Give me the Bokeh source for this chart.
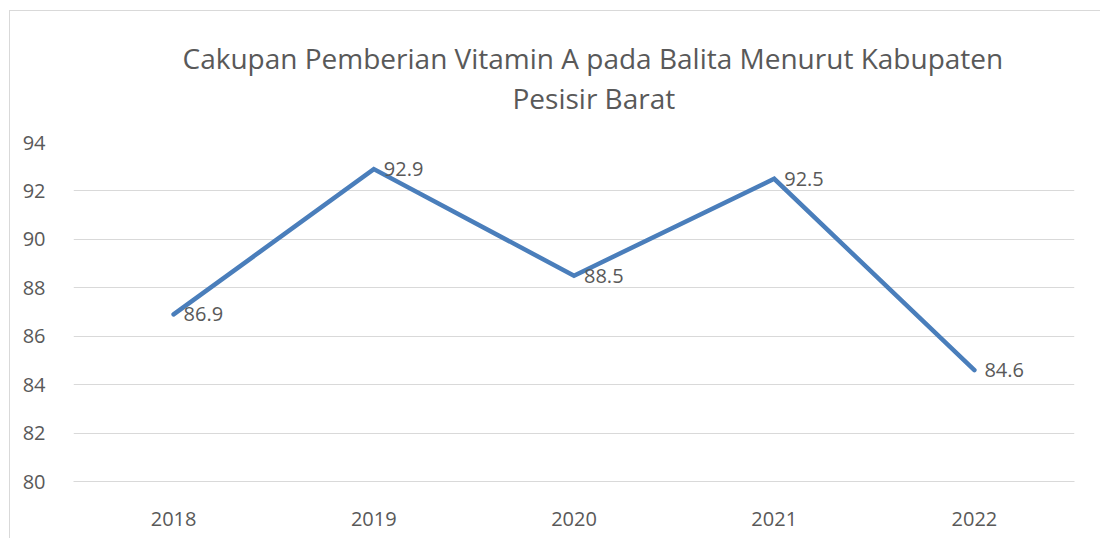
from bokeh.plotting import figure
from bokeh.models import Range1d, FactorRange, ColumnDataSource, FixedTicker, Title
from bokeh.embed import file_html
from bokeh.resources import INLINE

years = ["2018", "2019", "2020", "2021", "2022"]
values = [86.9, 92.9, 88.5, 92.5, 84.6]
value_labels = ["86.9", "92.9", "88.5", "92.5", "84.6"]
y_ticks = [80, 82, 84, 86, 88, 90, 92, 94]
title_lines = ["Cakupan Pemberian Vitamin A pada Balita Menurut Kabupaten", "Pesisir Barat"]

FONT = "Open Sans"
TXT = "#595959"
GRID = "#d9d9d9"
LINE = "#4a7ebb"

src = ColumnDataSource(dict(x=years, y=values, lab=value_labels))

p = figure(width=1091, height=528, output_backend="svg", toolbar_location=None,
           x_range=FactorRange(*years, range_padding=0), y_range=Range1d(80, 94),
           min_border_left=63, min_border_right=27, min_border_top=131, min_border_bottom=58)
p.styles = {"border-top": f"1px solid {GRID}", "border-left": f"1px solid {GRID}",
            "margin-left": "9px", "margin-top": "10px"}
p.outline_line_color = None
p.background_fill_color = "white"
p.border_fill_color = "white"

p.line("x", "y", source=src, line_color=LINE, line_width=4.5, line_join="miter", line_cap="round")
p.text("x", "y", text="lab", source=src, x_offset=10, text_baseline="middle", text_align="left",
       text_font={"value": FONT}, text_font_size="20px", text_color=TXT)

p.yaxis.ticker = FixedTicker(ticks=y_ticks)
p.ygrid.ticker = FixedTicker(ticks=y_ticks)
p.ygrid.grid_line_color = GRID
p.ygrid.grid_line_width = 1
p.xgrid.grid_line_color = None
for ax in (p.xaxis, p.yaxis):
    ax.axis_line_color = None
    ax.major_tick_line_color = None
    ax.minor_tick_line_color = None
    ax.major_label_text_font = FONT
    ax.major_label_text_font_size = "20px"
    ax.major_label_text_color = TXT
p.xaxis.axis_line_color = GRID
p.yaxis.major_label_standoff = 22
p.xaxis.major_label_standoff = 24

# blank spacer between the plot frame and the two-line title
p.add_layout(Title(text=" ", text_font=FONT, text_font_size="18px", standoff=0), "above")
p.add_layout(Title(text=title_lines[1], align="left", offset=439, text_font=FONT,
                   text_font_size="28px", text_font_style="normal", text_color=TXT, standoff=0), "above")
p.add_layout(Title(text=title_lines[0], align="left", offset=109, text_font=FONT,
                   text_font_size="28px", text_font_style="normal", text_color=TXT, standoff=0), "above")

open("out.html", "w").write(file_html(p, INLINE))
